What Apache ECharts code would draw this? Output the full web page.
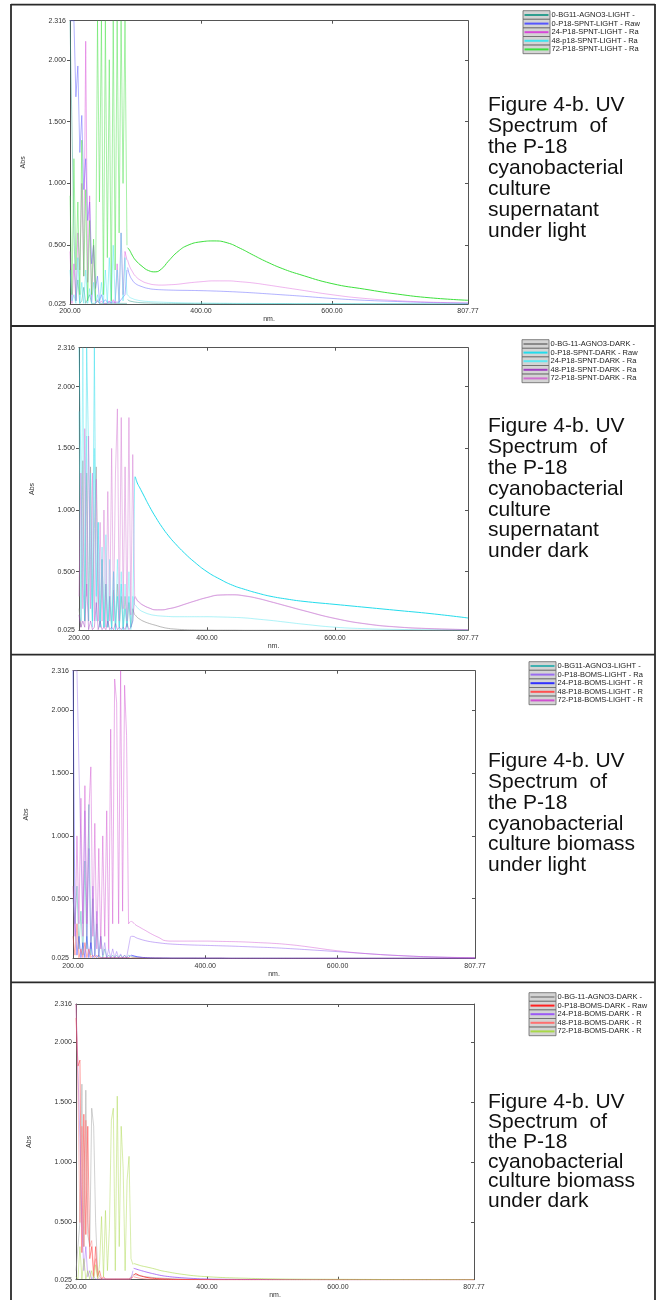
<!DOCTYPE html>
<html>
<head>
<meta charset="utf-8">
<title>UV spectra of P-18 cyanobacterial culture</title>
<script src="https://cdn.jsdelivr.net/npm/echarts@6/dist/echarts.min.js"></script>
<style>
  html, body { margin: 0; padding: 0; background: #ffffff; }
  #chart { width: 664px; height: 1300px; }
</style>
</head>
<body>
<div id="chart"></div>
<script>
// ---------- shared wavelength grids (nm) ----------
// saturated / noisy region, one reading every 3 nm
const noiseNm = [200, 203, 206, 209, 212, 215, 218, 221, 224, 227, 230, 233, 236, 239, 242,
                 245, 248, 251, 254, 257, 260, 263, 266, 269, 272, 275, 278, 281, 284, 287];
// smooth region up to the end of the scan
const tailNm = [288, 291, 295, 300, 310, 320, 330, 340, 350, 365, 380, 400, 420, 440, 460,
                480, 500, 525, 550, 600, 650, 700, 750, 807.77];

// axis tick labels
const xTickLabels = [200, 400, 600, 807.77];
const xTickMarks = [400, 600];
const yTickLabels = [0.025, 0.5, 1, 1.5, 2, 2.316];
const yTickMarks = [0.5, 1, 1.5, 2];

// ---------- panel 1: supernatant under light ----------
const p1Names = ['0-BG11-AGNO3-LIGHT -', '0-P18-SPNT-LIGHT - Raw', '24-P18-SPNT-LIGHT - Ra',
                 '48-p18-SPNT-LIGHT - Ra', '72-P18-SPNT-LIGHT - Ra'];
const p1Noise0 = [2.316, 2.316, 0.6, 0.05, 0.22, 0.03, 0.05, 0.16, 0.03, 0.03, 0.1, 0.03, 0.03, 0.03, 0.05,
                  0.03, 0.03, 0.03, 0.03, 0.03, 0.03, 0.03, 0.03, 0.03, 0.03, 0.03, 0.03, 0.03, 0.03, 0.03];
const p1Tail0 = [0.06, 0.05, 0.045, 0.04, 0.035, 0.033, 0.031, 0.03, 0.03, 0.029, 0.029, 0.028, 0.028, 0.028,
                 0.027, 0.027, 0.027, 0.027, 0.026, 0.026, 0.026, 0.026, 0.025, 0.025];
const p1Noise1 = [2.316, 2.316, 2.316, 1.7, 1.95, 1.25, 1.55, 0.95, 1.2, 0.7, 0.85, 0.35, 0.5, 0.15, 0.25,
                  0.05, 0.1, 0.04, 0.06, 0.04, 0.05, 0.04, 0.05, 0.04, 0.05, 0.04, 0.06, 0.05, 0.1, 0.3];
const p1Tail1 = [0.32, 0.26, 0.22, 0.19, 0.165, 0.15, 0.143, 0.14, 0.138, 0.136, 0.135, 0.133, 0.13, 0.126,
                 0.121, 0.115, 0.108, 0.099, 0.09, 0.07, 0.055, 0.045, 0.037, 0.032];
const p1Noise2 = [0.45, 0.03, 0.35, 0.05, 0.6, 0.3, 1.0, 0.25, 2.15, 0.2, 0.9, 0.04, 0.5, 0.03, 0.06,
                  0.03, 0.05, 0.03, 0.04, 0.03, 0.05, 0.03, 0.06, 0.03, 0.35, 0.04, 0.6, 0.1, 0.45, 0.38];
const p1Tail2 = [0.38, 0.33, 0.29, 0.25, 0.21, 0.19, 0.18, 0.178, 0.18, 0.185, 0.195, 0.205, 0.212, 0.212,
                 0.205, 0.195, 0.18, 0.16, 0.14, 0.1, 0.07, 0.052, 0.04, 0.033];
const p1Noise3 = [0.3, 0.05, 0.1, 0.03, 0.4, 0.03, 0.2, 0.03, 0.3, 0.03, 0.15, 0.03, 0.2, 0.03, 0.1,
                  0.03, 0.2, 0.03, 0.3, 0.03, 0.4, 0.03, 0.5, 0.05, 0.3, 0.03, 0.6, 0.05, 0.4, 0.1];
const p1Tail3 = [0.1, 0.08, 0.07, 0.06, 0.05, 0.045, 0.042, 0.04, 0.038, 0.036, 0.034, 0.033, 0.032, 0.031,
                 0.03, 0.03, 0.029, 0.029, 0.028, 0.028, 0.027, 0.027, 0.026, 0.026];
const p1Noise4 = [0.9, 0.1, 1.2, 0.3, 0.85, 0.1, 1.35, 0.25, 0.95, 0.05, 0.7, 0.1, 0.55, 0.05, 2.316,
                  0.85, 2.316, 0.1, 2.316, 0.4, 2.0, 0.05, 2.316, 0.3, 2.316, 0.6, 2.316, 1.0, 2.316, 0.5];
const p1Tail4 = [0.48, 0.46, 0.42, 0.38, 0.33, 0.295, 0.285, 0.31, 0.37, 0.45, 0.5, 0.528, 0.535, 0.52,
                 0.475, 0.42, 0.367, 0.31, 0.265, 0.19, 0.145, 0.105, 0.075, 0.055];

// ---------- panel 2: supernatant under dark ----------
const p2Names = ['0-BG-11-AGNO3-DARK -', '0-P18-SPNT-DARK - Raw', '24-P18-SPNT-DARK - Ra',
                 '48-P18-SPNT-DARK - Ra', '72-P18-SPNT-DARK - Ra'];
const p2Noise0 = [0.2, 0.05, 1.4, 0.1, 1.3, 0.1, 1.35, 0.1, 0.85, 1.35, 0.3, 0.05, 0.6, 0.05, 0.4,
                  0.05, 0.3, 0.05, 0.35, 0.05, 0.4, 0.05, 0.3, 0.05, 0.3, 0.05, 0.25, 0.05, 0.2, 0.15];
const p2Tail0 = [0.15, 0.13, 0.115, 0.1, 0.08, 0.065, 0.05, 0.04, 0.035, 0.03, 0.028, 0.027, 0.026, 0.026,
                 0.025, 0.025, 0.025, 0.025, 0.025, 0.025, 0.025, 0.025, 0.025, 0.025];
const p2Noise1 = [2.316, 2.316, 0.4, 0.1, 2.316, 2.316, 0.6, 0.1, 2.316, 0.3, 0.9, 0.05, 0.6, 0.05, 0.4,
                  0.05, 0.3, 0.03, 0.5, 0.03, 0.3, 0.05, 0.4, 0.03, 0.2, 0.05, 0.3, 0.05, 0.1, 1.27];
const p2Tail1 = [1.27, 1.22, 1.18, 1.13, 1.03, 0.94, 0.86, 0.79, 0.73, 0.65, 0.58, 0.5, 0.44, 0.39,
                 0.355, 0.325, 0.3, 0.278, 0.26, 0.235, 0.21, 0.185, 0.16, 0.125];
const p2Noise2 = [1.8, 0.1, 2.316, 0.2, 1.6, 0.1, 1.3, 0.05, 1.5, 0.1, 0.9, 0.05, 0.7, 0.05, 0.8,
                  0.05, 0.6, 0.05, 0.5, 0.03, 0.6, 0.03, 0.5, 0.03, 0.4, 0.03, 0.5, 0.03, 0.3, 0.23];
const p2Tail2 = [0.23, 0.21, 0.19, 0.175, 0.155, 0.145, 0.14, 0.137, 0.135, 0.135, 0.135, 0.135, 0.133, 0.13,
                 0.125, 0.115, 0.105, 0.09, 0.075, 0.05, 0.038, 0.032, 0.029, 0.027];
const p2Noise3 = [0.15, 0.05, 0.1, 0.05, 0.4, 0.03, 0.1, 0.03, 0.05, 0.25, 0.03, 0.1, 0.03, 0.05, 0.03,
                  0.1, 0.03, 0.05, 0.03, 0.08, 0.03, 0.05, 0.03, 0.05, 0.03, 0.08, 0.03, 0.05, 0.1, 0.3];
const p2Tail3 = [0.3, 0.27, 0.25, 0.23, 0.205, 0.19, 0.19, 0.2, 0.21, 0.235, 0.26, 0.29, 0.31, 0.312,
                 0.302, 0.282, 0.255, 0.22, 0.185, 0.12, 0.075, 0.05, 0.038, 0.03];
const p2Noise4 = [0.3, 1.3, 0.2, 1.66, 0.3, 1.6, 0.2, 1.3, 0.1, 1.25, 0.1, 0.9, 0.1, 1.0, 0.05,
                  1.15, 0.1, 1.5, 0.1, 1.3, 1.82, 0.1, 1.75, 0.2, 1.35, 0.1, 1.75, 0.15, 1.45, 0.3];
const p2Tail4 = [0.29, 0.265, 0.245, 0.228, 0.205, 0.192, 0.192, 0.2, 0.212, 0.237, 0.262, 0.292, 0.312, 0.314,
                 0.304, 0.284, 0.257, 0.222, 0.187, 0.122, 0.077, 0.052, 0.039, 0.031];

// ---------- panel 3: biomass under light ----------
const p3Names = ['0-BG11-AGNO3-LIGHT -', '0-P18-BOMS-LIGHT - Ra', '24-P18-BOMS-LIGHT - R',
                 '48-P18-BOMS-LIGHT - R', '72-P18-BOMS-LIGHT - R'];
const p3Noise0 = [0.5, 0.3, 0.6, 0.1, 0.4, 0.05, 0.8, 0.1, 1.25, 0.05, 0.5, 0.05, 0.3, 0.03, 0.2,
                  0.03, 0.1, 0.03, 0.05, 0.03, 0.05, 0.03, 0.05, 0.03, 0.05, 0.03, 0.05, 0.03, 0.05, 0.04];
const p3Tail0 = [0.04, 0.035, 0.032, 0.03, 0.028, 0.027, 0.027, 0.026, 0.026, 0.026, 0.026, 0.025, 0.025, 0.025,
                 0.025, 0.025, 0.025, 0.025, 0.025, 0.025, 0.025, 0.025, 0.025, 0.025];
const p3Noise1 = [2.316, 2.316, 2.316, 1.55, 0.9, 0.3, 1.2, 0.2, 0.9, 0.1, 0.6, 0.05, 0.4, 0.05, 0.2,
                  0.05, 0.15, 0.03, 0.1, 0.03, 0.1, 0.03, 0.08, 0.03, 0.06, 0.03, 0.05, 0.03, 0.04, 0.2];
const p3Tail1 = [0.2, 0.2, 0.19, 0.18, 0.165, 0.155, 0.148, 0.142, 0.138, 0.134, 0.131, 0.128, 0.125, 0.122,
                 0.118, 0.114, 0.11, 0.103, 0.095, 0.078, 0.06, 0.045, 0.035, 0.028];
const p3Noise2 = [2.316, 0.3, 0.05, 0.2, 0.03, 0.15, 0.03, 0.2, 0.03, 0.15, 0.03, 0.05, 0.03, 0.05, 0.03,
                  0.03, 0.03, 0.03, 0.03, 0.03, 0.03, 0.03, 0.03, 0.03, 0.03, 0.03, 0.03, 0.03, 0.03, 0.05];
const p3Tail2 = [0.05, 0.045, 0.04, 0.035, 0.03, 0.028, 0.027, 0.027, 0.026, 0.026, 0.026, 0.026, 0.026, 0.025,
                 0.025, 0.025, 0.025, 0.025, 0.025, 0.025, 0.025, 0.025, 0.025, 0.025];
const p3Noise3 = [0.2, 0.05, 0.3, 0.03, 0.1, 0.03, 0.15, 0.03, 0.1, 0.03, 0.05, 0.03, 0.05, 0.03, 0.03,
                  0.03, 0.03, 0.03, 0.03, 0.03, 0.03, 0.03, 0.03, 0.03, 0.03, 0.03, 0.03, 0.03, 0.03, 0.03];
const p3Tail3 = [0.03, 0.029, 0.028, 0.028, 0.027, 0.027, 0.027, 0.026, 0.026, 0.026, 0.026, 0.026, 0.026, 0.025,
                 0.025, 0.025, 0.025, 0.025, 0.025, 0.025, 0.025, 0.025, 0.025, 0.025];
const p3Noise4 = [0.6, 0.2, 1.0, 0.3, 1.3, 0.2, 1.4, 0.3, 1.2, 1.55, 0.2, 1.1, 0.1, 0.9, 0.1,
                  1.0, 0.2, 1.2, 0.1, 1.85, 0.3, 2.25, 2.06, 0.3, 2.316, 0.4, 2.2, 1.8, 0.3, 0.32];
const p3Tail4 = [0.32, 0.31, 0.29, 0.275, 0.245, 0.215, 0.19, 0.165, 0.162, 0.162, 0.162, 0.162, 0.16, 0.158,
                 0.155, 0.15, 0.145, 0.135, 0.12, 0.085, 0.06, 0.045, 0.035, 0.03];

// ---------- panel 4: biomass under dark ----------
const p4Names = ['0-BG-11-AGNO3-DARK -', '0-P18-BOMS-DARK - Raw', '24-P18-BOMS-DARK - R',
                 '48-P18-BOMS-DARK - R', '72-P18-BOMS-DARK - R'];
const p4Noise0 = [0.1, 0.3, 0.5, 1.65, 0.3, 1.6, 0.4, 0.3, 1.45, 1.3, 0.5, 0.1, 0.05, 0.03, 0.03,
                  0.03, 0.03, 0.03, 0.03, 0.03, 0.03, 0.03, 0.03, 0.03, 0.03, 0.03, 0.03, 0.03, 0.03, 0.07];
const p4Tail0 = [0.07, 0.065, 0.06, 0.055, 0.048, 0.042, 0.038, 0.035, 0.032, 0.03, 0.028, 0.027, 0.026, 0.026,
                 0.025, 0.025, 0.025, 0.025, 0.025, 0.025, 0.025, 0.025, 0.025, 0.025];
const p4Noise1 = [2.2, 1.8, 1.85, 0.25, 1.4, 0.4, 1.3, 0.2, 0.3, 0.05, 0.3, 0.05, 0.1, 0.03, 0.05,
                  0.03, 0.03, 0.03, 0.03, 0.03, 0.03, 0.03, 0.03, 0.03, 0.03, 0.03, 0.03, 0.03, 0.03, 0.05];
const p4Tail1 = [0.06, 0.075, 0.065, 0.055, 0.042, 0.036, 0.032, 0.03, 0.028, 0.027, 0.026, 0.026, 0.025, 0.025,
                 0.025, 0.025, 0.025, 0.025, 0.025, 0.025, 0.025, 0.025, 0.025, 0.025];
const p4Noise2 = [2.316, 2.316, 1.2, 0.5, 0.1, 0.3, 0.05, 0.1, 0.03, 0.05, 0.03, 0.03, 0.03, 0.03, 0.03,
                  0.03, 0.03, 0.03, 0.03, 0.03, 0.03, 0.03, 0.03, 0.03, 0.03, 0.03, 0.03, 0.03, 0.03, 0.1];
const p4Tail2 = [0.12, 0.115, 0.108, 0.1, 0.085, 0.072, 0.06, 0.052, 0.046, 0.04, 0.035, 0.031, 0.029, 0.028,
                 0.027, 0.027, 0.026, 0.026, 0.026, 0.025, 0.025, 0.025, 0.025, 0.025];
const p4Noise3 = [2.316, 1.6, 0.5, 1.3, 0.3, 1.35, 0.5, 0.3, 0.35, 0.1, 0.2, 0.05, 0.03, 0.03, 0.03,
                  0.03, 0.03, 0.03, 0.03, 0.03, 0.03, 0.03, 0.03, 0.03, 0.03, 0.03, 0.03, 0.03, 0.03, 0.05];
const p4Tail3 = [0.05, 0.045, 0.04, 0.035, 0.03, 0.028, 0.027, 0.027, 0.026, 0.026, 0.026, 0.025, 0.025, 0.025,
                 0.025, 0.025, 0.025, 0.025, 0.025, 0.025, 0.025, 0.025, 0.025, 0.025];
const p4Noise4 = [0.05, 0.03, 0.3, 0.03, 0.2, 0.03, 0.1, 0.03, 0.1, 0.03, 0.15, 0.03, 0.15, 0.55, 0.05,
                  0.6, 0.1, 0.45, 1.35, 1.45, 0.1, 1.55, 0.3, 1.3, 0.95, 0.1, 0.85, 1.05, 0.2, 0.15];
const p4Tail4 = [0.16, 0.155, 0.148, 0.14, 0.128, 0.115, 0.1, 0.09, 0.08, 0.068, 0.058, 0.05, 0.044, 0.04,
                 0.037, 0.034, 0.032, 0.03, 0.029, 0.028, 0.027, 0.026, 0.026, 0.025];

// ---------- captions ----------
const p1Caption = ['Figure 4-b. UV', 'Spectrum  of', 'the P-18', 'cyanobacterial', 'culture', 'supernatant', 'under light'];
const p2Caption = ['Figure 4-b. UV', 'Spectrum  of', 'the P-18', 'cyanobacterial', 'culture', 'supernatant', 'under dark'];
const p3Caption = ['Figure 4-b. UV', 'Spectrum  of', 'the P-18', 'cyanobacterial', 'culture biomass', 'under light'];
const p4Caption = ['Figure 4-b. UV', 'Spectrum  of', 'the P-18', 'cyanobacterial', 'culture biomass', 'under dark'];

// ---------- styling and layout ----------
const FONT = '"Liberation Sans", Arial, Helvetica, sans-serif';
const panels = [
  { names: p1Names, caption: p1Caption,
    noise: [p1Noise0, p1Noise1, p1Noise2, p1Noise3, p1Noise4],
    tail: [p1Tail0, p1Tail1, p1Tail2, p1Tail3, p1Tail4],
    colors: ['#2f9e8f', '#5555ff', '#d848d8', '#40e4ee', '#3ce03c'],
    tailAlpha: [0.5, 0.45, 0.4, 0.4, 1],
    grid: { left: 70, top: 20.7, width: 398, height: 283.3 },
    legend: { x: 523, y: 15 }, text: { x: 488, y: 94.5, lh: 21 } },
  { names: p2Names, caption: p2Caption,
    noise: [p2Noise0, p2Noise1, p2Noise2, p2Noise3, p2Noise4],
    tail: [p2Tail0, p2Tail1, p2Tail2, p2Tail3, p2Tail4],
    colors: ['#8a8a8a', '#22dcec', '#5ee8f2', '#a040c0', '#d070d0'],
    tailAlpha: [0.6, 1, 0.5, 0.35, 0.4],
    grid: { left: 79, top: 347.7, width: 389, height: 282.6 },
    legend: { x: 522, y: 344 }, text: { x: 488, y: 416.3, lh: 20.8 } },
  { names: p3Names, caption: p3Caption,
    noise: [p3Noise0, p3Noise1, p3Noise2, p3Noise3, p3Noise4],
    tail: [p3Tail0, p3Tail1, p3Tail2, p3Tail3, p3Tail4],
    colors: ['#3fb0b0', '#9a6cf0', '#3030ff', '#ff5050', '#d050d0'],
    tailAlpha: [0.5, 0.55, 0.8, 0.5, 0.45],
    grid: { left: 73, top: 670.7, width: 402, height: 287.6 },
    legend: { x: 529, y: 666 }, text: { x: 488, y: 751.3, lh: 20.7 } },
  { names: p4Names, caption: p4Caption,
    noise: [p4Noise0, p4Noise1, p4Noise2, p4Noise3, p4Noise4],
    tail: [p4Tail0, p4Tail1, p4Tail2, p4Tail3, p4Tail4],
    colors: ['#9a9a9a', '#ff2020', '#9b59f5', '#ff7070', '#a8d848'],
    tailAlpha: [0.5, 0.8, 0.8, 0.6, 0.6],
    grid: { left: 76, top: 1004, width: 398, height: 275.7 },
    legend: { x: 529, y: 997 }, text: { x: 488, y: 1092.5, lh: 19.8 } }
];

const axisColor = '#555';
const labelColor = '#333';
const grids = [], xAxes = [], yAxes = [], series = [], graphics = [];

panels.forEach((p, pi) => {
  grids.push(Object.assign({ containLabel: false }, p.grid));

  // bottom x axis with labels, top x axis with ticks only
  xAxes.push({
    type: 'value', gridIndex: pi, position: 'bottom', min: 200, max: 807.77,
    name: 'nm.', nameLocation: 'middle', nameGap: 10,
    nameTextStyle: { fontSize: 7, color: labelColor, fontFamily: FONT },
    axisLine: { show: true, onZero: false, lineStyle: { color: axisColor, width: 1 } },
    axisTick: { show: true, inside: true, length: 3, customValues: xTickMarks, lineStyle: { color: axisColor } },
    axisLabel: { customValues: xTickLabels, formatter: v => Number(v).toFixed(2),
                 fontSize: 7, color: labelColor, fontFamily: FONT, margin: 4 },
    splitLine: { show: false }
  });
  xAxes.push({
    type: 'value', gridIndex: pi, position: 'top', min: 200, max: 807.77,
    axisLine: { show: true, onZero: false, lineStyle: { color: axisColor, width: 1 } },
    axisTick: { show: true, inside: true, length: 3, customValues: xTickMarks, lineStyle: { color: axisColor } },
    axisLabel: { show: false }, splitLine: { show: false }
  });

  // left y axis with labels, right y axis with ticks only
  yAxes.push({
    type: 'value', gridIndex: pi, position: 'left', min: 0.025, max: 2.316,
    name: 'Abs', nameLocation: 'middle', nameGap: 43, nameRotate: 90,
    nameTextStyle: { fontSize: 7, color: labelColor, fontFamily: FONT },
    axisLine: { show: true, onZero: false, lineStyle: { color: axisColor, width: 1 } },
    axisTick: { show: true, inside: false, length: 3, customValues: yTickMarks, lineStyle: { color: axisColor } },
    axisLabel: { customValues: yTickLabels, formatter: v => Number(v).toFixed(3),
                 fontSize: 7, color: labelColor, fontFamily: FONT, margin: 4 },
    splitLine: { show: false }
  });
  yAxes.push({
    type: 'value', gridIndex: pi, position: 'right', min: 0.025, max: 2.316,
    axisLine: { show: true, onZero: false, lineStyle: { color: axisColor, width: 1 } },
    axisTick: { show: true, inside: true, length: 3, customValues: yTickMarks, lineStyle: { color: axisColor } },
    axisLabel: { show: false }, splitLine: { show: false }
  });

  // spectra: noisy saturated part and smooth part of each scan
  p.names.forEach((name, k) => {
    const color = p.colors[k];
    series.push({
      type: 'line', name: name, xAxisIndex: pi * 2, yAxisIndex: pi * 2,
      data: noiseNm.map((x, i) => [x, p.noise[k][i]]),
      symbol: 'none', silent: true,
      lineStyle: { color: color, width: 1, opacity: 0.45 }
    });
    series.push({
      type: 'line', name: name, xAxisIndex: pi * 2, yAxisIndex: pi * 2,
      data: tailNm.map((x, i) => [x, p.tail[k][i]]),
      symbol: 'none', silent: true, smooth: 0.5,
      lineStyle: { color: color, width: 1, opacity: p.tailAlpha[k] }
    });
  });

  // legend box
  const rowH = 8.6, swW = 27;
  p.names.forEach((name, k) => {
    const cy = p.legend.y + k * rowH;
    graphics.push({
      type: 'rect', silent: true,
      shape: { x: p.legend.x, y: cy - rowH / 2, width: swW, height: rowH },
      style: { fill: '#d4d4d4', stroke: '#666', lineWidth: 0.8 }
    });
    graphics.push({
      type: 'line', silent: true,
      shape: { x1: p.legend.x + 1.5, y1: cy, x2: p.legend.x + swW - 1.5, y2: cy },
      style: { stroke: p.colors[k], lineWidth: 2 }
    });
    graphics.push({
      type: 'text', silent: true,
      style: { text: name, x: p.legend.x + swW + 1.5, y: cy, fill: '#222',
               font: '7.5px ' + FONT, verticalAlign: 'middle', align: 'left' }
    });
  });

  // caption beside the plot
  graphics.push({
    type: 'text', silent: true,
    style: { text: p.caption.join('\n'), x: p.text.x, y: p.text.y, fill: '#111',
             font: '21px ' + FONT, lineHeight: p.text.lh, verticalAlign: 'top', align: 'left' }
  });
});

// table frame around the four panels
const frameY = [4.7, 326, 654.7, 982.3];
const frameStyle = { stroke: '#2a2a2a', lineWidth: 1.8 };
graphics.push({ type: 'line', silent: true, shape: { x1: 11, y1: 4, x2: 11, y2: 1300 }, style: frameStyle });
graphics.push({ type: 'line', silent: true, shape: { x1: 655, y1: 4, x2: 655, y2: 1300 }, style: frameStyle });
frameY.forEach(y => {
  graphics.push({ type: 'line', silent: true, shape: { x1: 11, y1: y, x2: 655, y2: y }, style: frameStyle });
});

const chart = echarts.init(document.getElementById('chart'), null, { renderer: 'canvas', width: 664, height: 1300 });
chart.setOption({
  backgroundColor: '#ffffff',
  animation: false,
  grid: grids,
  xAxis: xAxes,
  yAxis: yAxes,
  series: series,
  graphic: { elements: graphics }
});
</script>
</body>
</html>
